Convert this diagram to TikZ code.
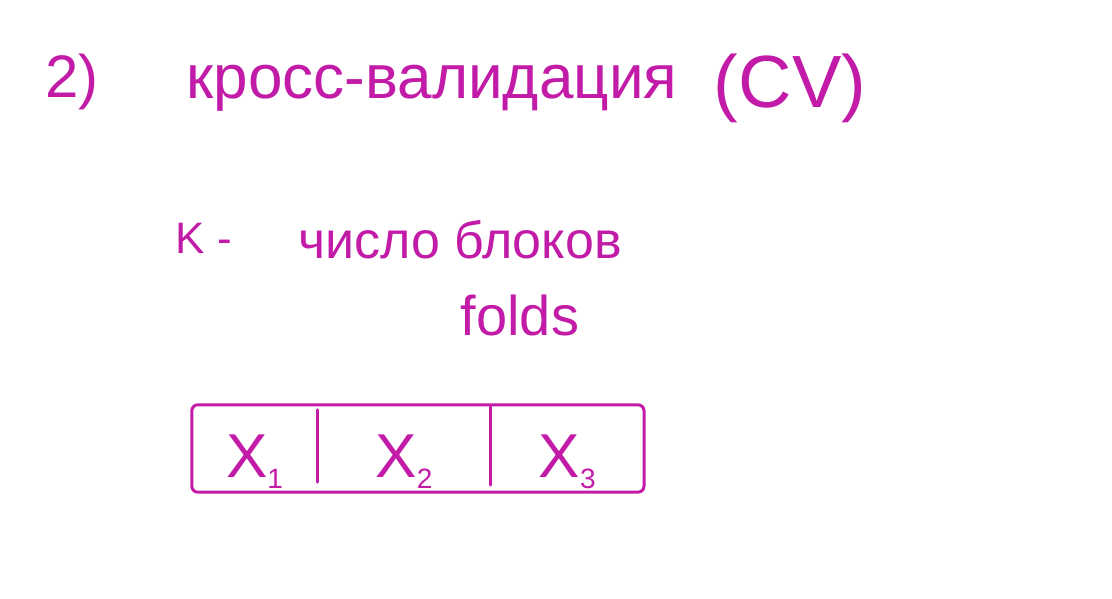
\documentclass[tikz,border=0pt]{standalone}
\usepackage{fontspec}
\setmainfont{Liberation Sans}
\usepackage{xcolor}
\usetikzlibrary{positioning}
\definecolor{cInk}{HTML}{C21BA8}
\newcommand{\idx}[1]{\raisebox{-0.35ex}{\fontsize{28}{30}\selectfont #1}}
\tikzset{
  hand/.style={cInk, inner sep=0pt, font=\fontsize{#1}{#1}\selectfont},
  cell/.style={draw=none, minimum height=87pt, inner sep=0pt,
               text height=58pt, text depth=0pt,
               font=\fontsize{62}{62}\selectfont, text=cInk},
  pen/.style={cInk, line width=3pt, line cap=round}
}
\begin{document}
\begin{tikzpicture}[x=1pt, y=-1pt]
\useasboundingbox (0,0) rectangle (1112,599);
% title line
\node[hand=60] (num) at (72,82) {2)};
\node[hand=62] (title) at (432,88) {кросс-валидация};
\node[hand=74] (cv) at (790,88) {(CV)};
% definition of K
\node[hand=44] (k) at (204,238) {K -};
\node[hand=52] (count) at (460,240) {число блоков};
\node[hand=56] (folds) at (520,315) {folds};
% the split into folds
\node[cell, minimum width=125pt] (x1) at (254.5,448.5) {X\idx{1}};
\node[cell, minimum width=173pt, right=0pt of x1] (x2) {X\idx{2}};
\node[cell, minimum width=153pt, right=0pt of x2] (x3) {X\idx{3}};
\draw[pen, rounded corners=6pt] (x1.north west) rectangle (x3.south east);
\draw[pen] ([yshift=-5pt]x1.north east) -- ([yshift=10pt]x1.south east);
\draw[pen] ([yshift=-2pt]x2.north east) -- ([yshift=7pt]x2.south east);
\end{tikzpicture}
\end{document}
